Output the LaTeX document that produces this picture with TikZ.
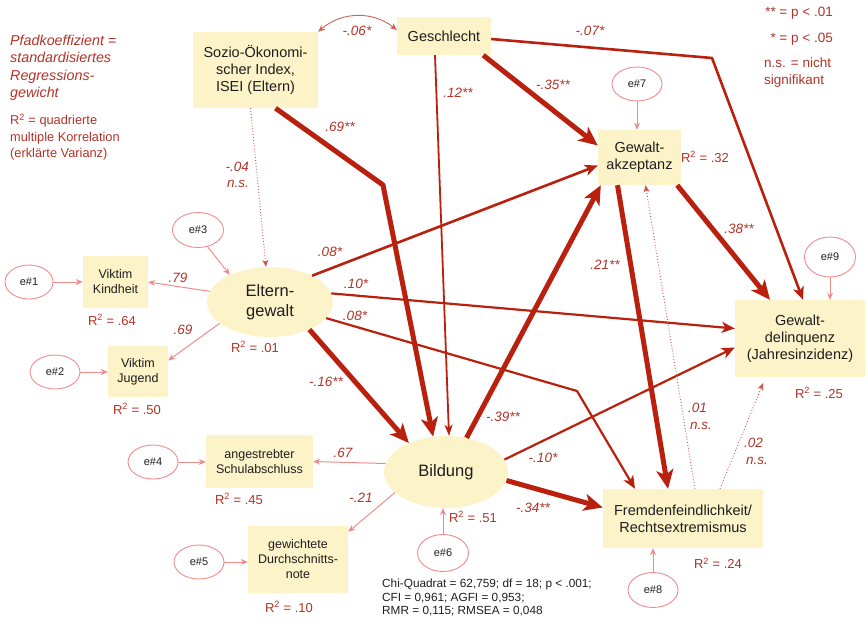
\documentclass[tikz,border=0pt]{standalone}
\usepackage{fontspec}
\setmainfont{Liberation Sans}
\usetikzlibrary{arrows.meta,shapes.geometric}

\definecolor{pathred}{RGB}{185,32,14}
\definecolor{labred}{RGB}{178,50,38}
\definecolor{errpink}{RGB}{238,140,140}
\definecolor{boxfill}{RGB}{252,243,200}
\definecolor{ink}{RGB}{30,30,30}

\tikzset{
  varbox/.style={rectangle, fill=boxfill, draw=none, align=center, inner sep=0pt,
    text=ink, font=\fontsize{14.5}{17}\selectfont},
  smallbox/.style={varbox, font=\fontsize{12.5}{15}\selectfont},
  latent/.style={ellipse, fill=boxfill, draw=none, align=center, inner sep=0pt,
    text=ink, font=\fontsize{16.5}{19.5}\selectfont},
  errvar/.style={ellipse, draw=errpink, line width=0.9pt, fill=white, inner sep=0pt,
    text=ink, font=\fontsize{11}{13}\selectfont, minimum width=50pt, minimum height=34pt},
  coef/.style={text=labred, inner sep=0pt, font=\fontsize{13.5}{16}\selectfont\itshape},
  rsq/.style={text=labred, inner sep=0pt, font=\fontsize{13}{15}\selectfont},
  legend/.style={text=labred, inner sep=0pt, align=left},
  heavy/.style={draw=pathred, line width=5pt, line join=round,
    -{Stealth[length=19pt,width=17pt,inset=5pt]}},
  medium/.style={draw=pathred, line width=2.6pt, line join=round,
    -{Stealth[length=13pt,width=11pt,inset=3.5pt]}},
  light/.style={draw=pathred, line width=1.8pt,
    -{Stealth[length=11pt,width=8pt,inset=3pt]}},
  nsarrow/.style={draw=pathred!75, line width=0.9pt, dotted,
    -{Stealth[length=7pt,width=6pt,inset=2pt]}},
  measure/.style={draw=errpink, line width=1pt,
    -{Stealth[length=7pt,width=6pt]}},
}

\begin{document}
\begin{tikzpicture}[x=1pt,y=-1pt]
\useasboundingbox (0,0) rectangle (868,624);

% ---------- observed and latent variables ----------
\node[varbox, minimum width=125pt, minimum height=76pt] (sozio) at (255.5,70)
  {Sozio-Ökonomi-\\scher Index,\\ISEI (Eltern)};
\node[varbox, minimum width=94pt, minimum height=38pt] (geschl) at (444,36) {Geschlecht};
\node[varbox, minimum width=83pt, minimum height=55pt] (akz) at (639.5,157.5) {Gewalt-\\akzeptanz};
\node[varbox, minimum width=130pt, minimum height=77pt] (delinq) at (800,338.5)
  {Gewalt-\\delinquenz\\(Jahresinzidenz)};
\node[varbox, minimum width=160pt, minimum height=59pt] (fremd) at (683,518.5)
  {Fremdenfeindlichkeit/\\Rechtsextremismus};

\node[latent, minimum width=126pt, minimum height=70pt] (eltern) at (270,302) {Eltern-\\gewalt};
\node[latent, minimum width=124pt, minimum height=72pt] (bildung) at (446,472) {Bildung};

\node[smallbox, minimum width=65pt, minimum height=52pt] (kindheit) at (115.5,282) {Viktim\\Kindheit};
\node[smallbox, minimum width=60pt, minimum height=51pt] (jugend) at (138,371.5) {Viktim\\Jugend};
\node[smallbox, minimum width=107pt, minimum height=53pt] (schul) at (259.5,461.5) {angestrebter\\Schulabschluss};
\node[smallbox, minimum width=100pt, minimum height=67pt] (note) at (298,559.5) {gewichtete\\Durchschnitts-\\note};

% ---------- error terms ----------
\node[errvar, minimum width=48pt] (e1) at (29,282) {e\#1};
\node[errvar] (e2) at (55,372) {e\#2};
\node[errvar, minimum width=51pt, minimum height=35pt] (e3) at (198,230) {e\#3};
\node[errvar] (e4) at (153,462) {e\#4};
\node[errvar] (e5) at (199,562) {e\#5};
\node[errvar, minimum width=51pt, minimum height=37pt] (e6) at (443,553) {e\#6};
\node[errvar] (e7) at (637,84) {e\#7};
\node[errvar, minimum height=35pt] (e8) at (653,590) {e\#8};
\node[errvar, minimum width=51pt, minimum height=40pt] (e9) at (830,257) {e\#9};

% ---------- bend points ----------
\coordinate (kG) at (712,58);
\coordinate (kS) at (383,185);
\coordinate (kE) at (577,391);

% ---------- structural paths ----------
\draw[pathred!70, line width=0.9pt, {Stealth[length=7pt,width=6pt]}-{Stealth[length=7pt,width=6pt]}]
  (sozio.north east) to[bend left=40] ([yshift=6pt]geschl.west);
\draw[medium] ([yshift=-3pt]geschl.east) -- (kG) -- ([xshift=3pt]delinq.north);
\draw[heavy] ([xshift=-8pt]geschl.south east) -- ([yshift=12pt]akz.west);
\draw[light] ([xshift=-9pt]geschl.south) -- ([xshift=3pt]bildung.north);
\draw[heavy] ([xshift=20pt]sozio.south) -- (kS) -- (bildung.110);
\draw[nsarrow] ([xshift=-5pt]sozio.south) -- ([xshift=-4pt]eltern.north);

\draw[medium] (eltern.32) -- ([yshift=-8pt]akz.west);
\draw[medium, line width=2.2pt] (eltern.8) -- ([yshift=10pt]delinq.west);
\draw[medium, line width=2.2pt] (eltern.-16) -- (kE) -- ([xshift=-48pt]fremd.north);
\draw[heavy] (eltern.-35) -- (bildung.142);

\draw[heavy] (bildung.59) -- ([xshift=3pt]akz.south west);
\draw[medium, line width=2.2pt] (bildung.12) -- ([yshift=-9pt]delinq.west);
\draw[heavy] (bildung.-8) -- ([yshift=11pt]fremd.west);

\draw[heavy] ([xshift=-22pt]akz.south) -- ([xshift=-15pt]fremd.north);
\draw[heavy] ([xshift=-4pt]akz.south east) -- ([xshift=-30pt]delinq.north);

\draw[nsarrow] ([xshift=12pt]fremd.north) -- ([xshift=6pt]akz.south);
\draw[nsarrow] ([xshift=37pt]fremd.north) -- ([xshift=-37pt,yshift=-6pt]delinq.south);

% ---------- measurement paths ----------
\draw[measure] (eltern.170) -- (kindheit.east);
\draw[measure] (eltern.203) -- ([yshift=11pt]jugend.east);
\draw[measure] (bildung.172) -- (schul.east);
\draw[measure] (bildung.202) -- ([yshift=-6pt]note.north east);

\draw[measure] (e1.east) -- (e1.east -| kindheit.west);
\draw[measure] (e2.east) -- (e2.east -| jugend.west);
\draw[measure] (e3.-60) -- (eltern.146);
\draw[measure] (e4.east) -- (e4.east -| schul.west);
\draw[measure] (e5.east) -- (e5.east -| note.west);
\draw[measure] (e6.north) -- (e6.north |- bildung.south);
\draw[measure] (e7.south) -- (e7.south |- akz.north);
\draw[measure] (e8.north) -- (e8.north |- fremd.south);
\draw[measure] (e9.south) -- (e9.south |- delinq.north);

% ---------- path coefficients ----------
\node[coef] (c06) at (357,31) {-.06*};
\node[coef] (c07) at (590,31) {-.07*};
\node[coef] (c12) at (458,93) {.12**};
\node[coef] (c35) at (553,85) {-.35**};
\node[coef] (c69) at (340,127) {.69**};
\node[coef, anchor=east] (c04) at (249,167) {-.04};
\node[coef, anchor=east] (c04ns) at (249,184) {n.s.};
\node[coef] (c08a) at (330,252) {.08*};
\node[coef] (c10) at (356,284) {.10*};
\node[coef] (c08b) at (355,316) {.08*};
\node[coef] (c16) at (326,382) {-.16**};
\node[coef] (c39) at (503,417) {-.39**};
\node[coef] (c10b) at (543,458) {-.10*};
\node[coef] (c34) at (533,508) {-.34**};
\node[coef] (c21) at (605,265) {.21**};
\node[coef] (c38) at (739,229) {.38**};
\node[coef, anchor=west] (c01) at (688,408) {.01};
\node[coef, anchor=west] (c01ns) at (690,426) {n.s.};
\node[coef, anchor=west] (c02) at (744,443) {.02};
\node[coef, anchor=west] (c02ns) at (746,461) {n.s.};
\node[coef] (c79) at (178,278) {.79};
\node[coef] (c69b) at (183,330) {.69};
\node[coef] (c67) at (343,453) {.67};
\node[coef] (c21b) at (361,498) {-.21};

% ---------- explained variance ----------
\node[rsq] (r64) at (112,320) {R\textsuperscript{2} = .64};
\node[rsq] (r50) at (137,409) {R\textsuperscript{2} = .50};
\node[rsq] (r01) at (255,347) {R\textsuperscript{2} = .01};
\node[rsq] (r45) at (239,499) {R\textsuperscript{2} = .45};
\node[rsq] (r10) at (289,607) {R\textsuperscript{2} = .10};
\node[rsq] (r51) at (473,517) {R\textsuperscript{2} = .51};
\node[rsq] (r24) at (718,563) {R\textsuperscript{2} = .24};
\node[rsq] (r32) at (705,157) {R\textsuperscript{2} = .32};
\node[rsq] (r25) at (819,393) {R\textsuperscript{2} = .25};

% ---------- legends ----------
\node[legend, anchor=north west, font=\fontsize{14.3}{17.6}\selectfont\itshape] (legpath) at (10,34.5)
  {Pfadkoeffizient =\\standardisiertes\\Regressions-\\gewicht};
\node[legend, anchor=north west, font=\fontsize{12.8}{16.2}\selectfont] (legrsq) at (10,114)
  {R\textsuperscript{2} = quadrierte\\multiple Korrelation\\(erklärte Varianz)};
\node[legend, anchor=east, font=\fontsize{13.5}{16}\selectfont] (legp1) at (833,13) {** = p < .01};
\node[legend, anchor=east, font=\fontsize{13.5}{16}\selectfont] (legp2) at (833,39) {* = p < .05};
\node[legend, anchor=north west, font=\fontsize{13.5}{16.5}\selectfont] (legns) at (764,58)
  {n.s. = nicht\\signifikant};

\node[anchor=north west, align=left, inner sep=0pt, text=ink,
  font=\fontsize{11.8}{13.3}\selectfont] (fit) at (382,579)
  {Chi-Quadrat = 62,759; df = 18; p < .001;\\CFI = 0,961; AGFI = 0,953;\\RMR = 0,115; RMSEA = 0,048};
\end{tikzpicture}
\end{document}
